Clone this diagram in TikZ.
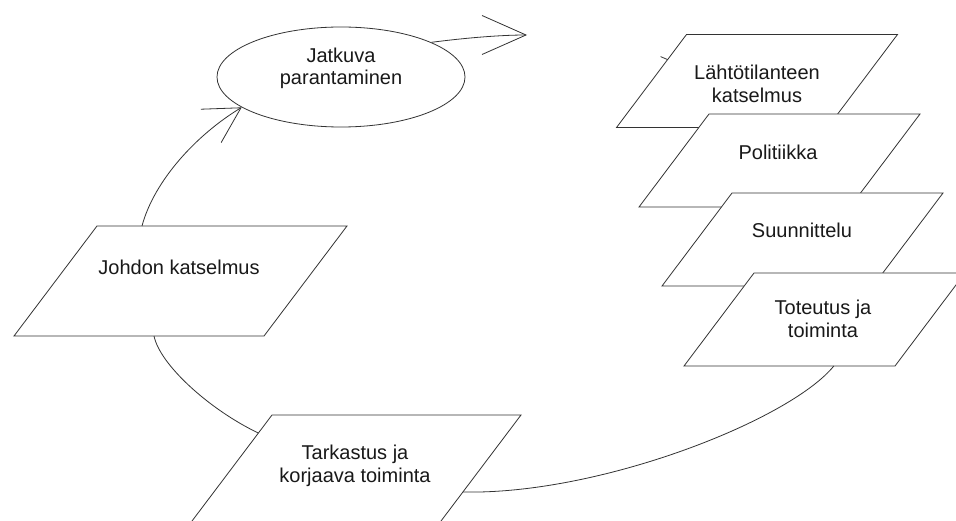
\documentclass[tikz,border=0pt]{standalone}
\usepackage{fontspec}
\setmainfont{Liberation Sans}
\usetikzlibrary{shapes.geometric,arrows.meta,calc}
\newcommand{\pgram}[6]{% name, top-left x, top-left y, top width, height, skew
  \coordinate (#1-tl) at (#2,#3);
  \coordinate (#1-tr) at ({#2+#4},#3);
  \coordinate (#1-br) at ({#2+#4-#6},{#3+#5});
  \coordinate (#1-bl) at ({#2-#6},{#3+#5});
  \filldraw[parabox] (#1-tl) -- (#1-tr) -- (#1-br) -- (#1-bl) -- cycle;
}
\begin{document}
\begin{tikzpicture}[x=1pt,y=-1pt,
  ln/.style={draw=black!80, line width=0.8pt},
  parabox/.style={ln, fill=white, line join=miter},
  txt/.style={align=center, font=\fontsize{20}{22.5}\selectfont, text=black!90, inner sep=0pt},
  arr/.style={ln, -{Straight Barb[length=#1, width=39pt]}}
]
\fill[white] (0,0) rectangle (956,521);
\useasboundingbox (0,0) rectangle (956,521);

% left shapes
\pgram{jk}{97}{226}{250}{110}{83}
\node[txt] (jkt) at (179,267) {Johdon katselmus};
\pgram{tk}{272}{415}{249}{110}{83}
\node[txt] (tkt) at (355,466) {Tarkastus ja\\korjaava toiminta};
\node[ellipse, ln, fill=white, minimum width=248pt, minimum height=100pt, inner sep=0pt] (jp) at (341,77) {};
\node[txt] (jpt) at (341,68.5) {Jatkuva\\parantaminen};

% right stack
\pgram{lk}{686.5}{34.5}{211}{93}{70}
\node[txt] (lkt) at (757,84) {Lähtötilanteen\\katselmus};
\pgram{po}{709}{114}{211}{93}{70}
\node[txt] (pot) at (778,152) {Politiikka};
\pgram{su}{732}{193}{211}{93}{70}
\node[txt] (sut) at (802,230) {Suunnittelu};
\pgram{tt}{754}{273}{211}{93}{70}
\node[txt] (ttt) at (823,319) {Toteutus ja\\toiminta};

\coordinate (tipT) at (527,35);

% connectors
\draw[arr=35pt] ($(jk-tl)!0.18!(jk-tr)$)
  .. controls (154,181) and (196,135) .. (jp.197);
\draw[arr=44pt] (jp.21) .. controls (465,38) and (500,35) .. (tipT);
\draw[ln] ($(jk-bl)!0.56!(jk-br)$)
  .. controls (160,365) and (210,410) .. ($(tk-tl)!0.164!(tk-bl)$);
\draw[ln] ($(tk-tr)!0.7!(tk-br)$)
  .. controls (600,495) and (790,420) .. ($(tt-bl)!0.71!(tt-br)$);
\draw[ln] ($(lk-tl)!0.27!(lk-bl)$) -- +(-7,-3);
\end{tikzpicture}
\end{document}
